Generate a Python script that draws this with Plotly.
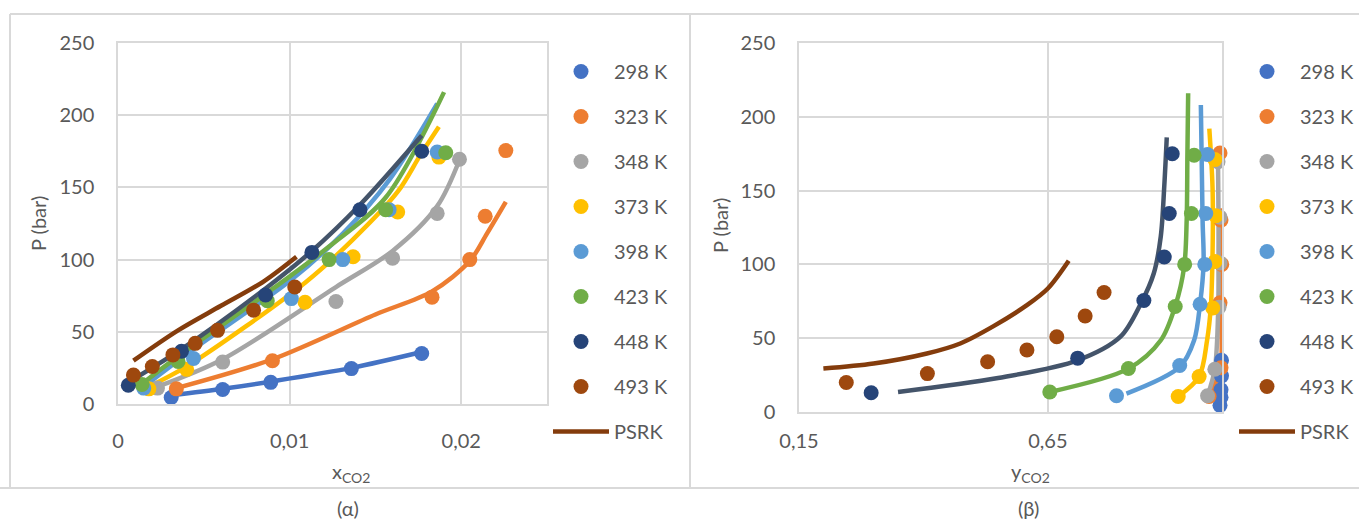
import plotly.graph_objects as go

W, H = 1359, 520

temps = ["298 K", "323 K", "348 K", "373 K", "398 K", "423 K", "448 K", "493 K"]
marker_colors = ["#4472C4", "#ED7D31", "#A5A5A5", "#FFC000", "#5B9BD5", "#70AD47", "#264478", "#9E480E"]
line_colors = ["#4472C4", "#ED7D31", "#A5A5A5", "#FFC000", "#5B9BD5", "#70AD47", "#44546A", "#843C0C"]

# ---- experimental points: pressure (bar), liquid x_CO2, vapour y_CO2 ----
P_298 = [4.5, 10, 15, 24.5, 35]
x_298 = [0.0031, 0.0061, 0.0089, 0.0136, 0.0177]
y_298 = [0.996, 0.998, 0.998, 0.999, 0.999]

P_323 = [10.5, 30, 74, 100, 130, 175.5]
x_323 = [0.0034, 0.0090, 0.0183, 0.0205, 0.0214, 0.0226]
y_323 = [0.974, 0.998, 0.996, 0.9995, 0.998, 0.996]

P_348 = [11, 29, 71, 101, 132, 169.5]
x_348 = [0.0023, 0.0061, 0.0127, 0.0160, 0.0186, 0.0199]
y_348 = [0.971, 0.9856, 0.994, 0.996, 0.996, 0.992]

P_373 = [10.5, 24, 70.5, 102, 133, 171]
x_373 = [0.0018, 0.0040, 0.0109, 0.0137, 0.0163, 0.0187]
y_373 = [0.912, 0.954, 0.9815, 0.986, 0.9876, 0.9856]

P_398 = [11, 31.5, 73, 100, 134.5, 174.5]
x_398 = [0.0015, 0.0044, 0.0101, 0.0131, 0.0158, 0.0186]
y_398 = [0.788, 0.915, 0.956, 0.9654, 0.9674, 0.9708]

P_423 = [13.5, 29.5, 71.5, 100, 134.5, 174]
x_423 = [0.0014, 0.0035, 0.0087, 0.0123, 0.0156, 0.0191]
y_423 = [0.654, 0.812, 0.906, 0.925, 0.9386, 0.944]

P_448 = [13, 36.5, 75.5, 105, 134.5, 175]
x_448 = [0.0006, 0.0037, 0.0086, 0.0113, 0.0141, 0.0177]
y_448 = [0.295, 0.710, 0.843, 0.884, 0.894, 0.900]

P_493 = [20, 26, 34, 42, 51, 65, 81]
x_493 = [0.0009, 0.0020, 0.0032, 0.0045, 0.0058, 0.0079, 0.0103]
y_493 = [0.245, 0.408, 0.529, 0.608, 0.668, 0.725, 0.763]

# ---- PSRK model curves: liquid branch (x) and vapour branch (y) ----
psrk_x_298 = [0.0031, 0.0061, 0.0089, 0.0136, 0.0177]
psrk_Px_298 = [6, 10.5, 15.5, 25, 36]
psrk_y_298 = [0.996, 0.997, 0.997, 0.998, 0.998]
psrk_Py_298 = [6, 10.5, 15.5, 25, 36]

psrk_x_323 = [0.0034, 0.0090, 0.0150, 0.0183, 0.0205, 0.0215, 0.0226]
psrk_Px_323 = [11, 31, 62, 78, 99, 118, 140]
psrk_y_323 = [0.974, 0.997, 0.997, 0.997, 0.996]
psrk_Py_323 = [10.5, 30, 74, 100, 138]

psrk_x_348 = [0.0023, 0.0061, 0.0127, 0.0160, 0.0186, 0.0199]
psrk_Px_348 = [12, 31, 81, 106, 137, 169]
psrk_y_348 = [0.971, 0.9856, 0.9925, 0.993, 0.993, 0.992]
psrk_Py_348 = [11, 29, 71, 101, 132, 169]

psrk_x_373 = [0.0018, 0.0040, 0.0109, 0.0137, 0.0163, 0.0176, 0.0187]
psrk_Px_373 = [12, 26, 84, 114, 147, 172, 192]
psrk_y_373 = [0.912, 0.954, 0.970, 0.9775, 0.981, 0.981, 0.9745]
psrk_Py_373 = [10.5, 24, 48.6, 71, 107, 152, 192]

psrk_x_398 = [0.0015, 0.0044, 0.0101, 0.0131, 0.0158, 0.0186]
psrk_Px_398 = [12, 38, 86, 118, 155, 208]
psrk_y_398 = [0.808, 0.915, 0.944, 0.956, 0.963, 0.961, 0.9575]
psrk_Py_398 = [12.4, 30.5, 48.6, 73.5, 100.7, 130, 208]

psrk_x_423 = [0.0014, 0.0035, 0.0087, 0.0123, 0.0156, 0.0190]
psrk_Px_423 = [14, 33, 77, 109, 143, 216]
psrk_y_423 = [0.654, 0.812, 0.877, 0.906, 0.924, 0.929, 0.9305, 0.932]
psrk_Py_423 = [13.6, 29.4, 48.6, 71.7, 98.4, 130, 175, 216]

psrk_x_448 = [0.0006, 0.0037, 0.0086, 0.0113, 0.0141, 0.0177]
psrk_Px_448 = [15, 38, 80, 106, 138, 186]
psrk_y_448 = [0.349, 0.550, 0.710, 0.796, 0.837, 0.863, 0.877, 0.884, 0.889]
psrk_Py_448 = [13.6, 23, 35, 51, 73.5, 94, 119, 153, 186]

psrk_x_493 = [0.0009, 0.0035, 0.0060, 0.0085, 0.0104]
psrk_Px_493 = [30, 51, 68, 85, 102]
psrk_y_493 = [0.199, 0.300, 0.407, 0.474, 0.541, 0.608, 0.650, 0.692]
psrk_Py_493 = [29.4, 32.8, 39.6, 46.4, 58.2, 72.4, 83.7, 102.5]

# axis ticks
x_ticks_left = [0, 0.01, 0.02]
x_ticklabels_left = ["0", "0,01", "0,02"]
x_ticks_right = [0.15, 0.65]
x_ticklabels_right = ["0,15", "0,65"]
p_ticks = [0, 50, 100, 150, 200, 250]

exp_P = [P_298, P_323, P_348, P_373, P_398, P_423, P_448, P_493]
exp_x = [x_298, x_323, x_348, x_373, x_398, x_423, x_448, x_493]
exp_y = [y_298, y_323, y_348, y_373, y_398, y_423, y_448, y_493]
mod_x = [psrk_x_298, psrk_x_323, psrk_x_348, psrk_x_373, psrk_x_398, psrk_x_423, psrk_x_448, psrk_x_493]
mod_Px = [psrk_Px_298, psrk_Px_323, psrk_Px_348, psrk_Px_373, psrk_Px_398, psrk_Px_423, psrk_Px_448, psrk_Px_493]
mod_y = [psrk_y_298, psrk_y_323, psrk_y_348, psrk_y_373, psrk_y_398, psrk_y_423, psrk_y_448, psrk_y_493]
mod_Py = [psrk_Py_298, psrk_Py_323, psrk_Py_348, psrk_Py_373, psrk_Py_398, psrk_Py_423, psrk_Py_448, psrk_Py_493]

FONT = "Lato"
TXT = "#595959"
GRID = "#D9D9D9"

fig = go.Figure()

n = len(temps)
# model curves underneath the points
for i in range(n):
    last = i == n - 1
    for side, xs, ps, xa, ya, lg in (
        ("L", mod_x[i], mod_Px[i], "x", "y", "legend"),
        ("R", mod_y[i], mod_Py[i], "x2", "y2", "legend2"),
    ):
        fig.add_trace(go.Scatter(
            x=xs, y=ps, xaxis=xa, yaxis=ya, mode="lines",
            line=dict(color=line_colors[i], width=4.5, shape="spline", smoothing=0.9),
            name="PSRK", showlegend=last, legend=lg,
            legendgroup="psrk" + side, legendrank=100,
            hoverinfo="skip", cliponaxis=False,
        ))

# experimental points
for i in range(n):
    for side, xs, xa, ya, lg in (
        ("L", exp_x[i], "x", "y", "legend"),
        ("R", exp_y[i], "x2", "y2", "legend2"),
    ):
        fig.add_trace(go.Scatter(
            x=xs, y=exp_P[i], xaxis=xa, yaxis=ya, mode="markers",
            marker=dict(color=marker_colors[i], size=15, line=dict(width=0)),
            name=temps[i], legend=lg, legendgroup=temps[i] + side,
            legendrank=i + 1, cliponaxis=False,
        ))


def px_x(p):
    return p / W


def px_y(p):
    return 1 - p / H


axis_common = dict(
    showgrid=True, gridcolor=GRID, gridwidth=1.5,
    showline=True, mirror=True, linecolor=GRID, linewidth=1.5,
    zeroline=False, ticks="", automargin=False,
    tickfont=dict(family=FONT, size=20, color=TXT),
)

legend_common = dict(
    xanchor="left", yanchor="top", orientation="v",
    xref="container", yref="container", maxheight=500,
    font=dict(family=FONT, size=20, color=TXT),
    itemwidth=56, tracegroupgap=16, traceorder="grouped",
    bgcolor="rgba(0,0,0,0)", borderwidth=0,
)

fig.update_layout(
    width=W, height=H,
    margin=dict(l=0, r=0, t=0, b=0, autoexpand=False),
    paper_bgcolor="white", plot_bgcolor="white",
    font=dict(family=FONT, size=20, color=TXT),
    showlegend=True,
    xaxis=dict(domain=[px_x(118), px_x(547)], range=[0, 0.025],
               tickvals=x_ticks_left, ticktext=x_ticklabels_left,
               ticklabelstandoff=18, anchor="y", **axis_common),
    yaxis=dict(domain=[px_y(404), px_y(43)], range=[0, 250],
               tickvals=p_ticks, ticklabelstandoff=18, anchor="x", **axis_common),
    xaxis2=dict(domain=[px_x(799), px_x(1222)], range=[0.15, 1.0],
                tickvals=x_ticks_right, ticktext=x_ticklabels_right,
                ticklabelstandoff=10, anchor="y2", **axis_common),
    yaxis2=dict(domain=[px_y(412), px_y(43)], range=[0, 250],
                tickvals=p_ticks, ticklabelstandoff=18, anchor="x2", **axis_common),
    legend=dict(x=px_x(548), y=px_y(52), **legend_common),
    legend2=dict(x=px_x(1234), y=px_y(52), **legend_common),
)

# axis titles and panel captions
labels = [
    ("P (bar)", 38, 224, -90),
    ("P (bar)", 720, 226, -90),
    ("x<sub>CO2</sub>", 351, 472, 0),
    ("y<sub>CO2</sub>", 1030, 472, 0),
    ("(α)", 348, 508, 0),
    ("(β)", 1028, 508, 0),
]
for text, ax_, ay_, rot in labels:
    fig.add_annotation(
        text=text, x=px_x(ax_), y=px_y(ay_), xref="paper", yref="paper",
        xanchor="center", yanchor="middle", showarrow=False, textangle=rot,
        font=dict(family=FONT, size=20, color=TXT),
    )

# outer frame of the two panels
frame = dict(color=GRID, width=2)
for x0, y0, x1, y1 in [
    (10, 14, W, 14),
    (10, 14, 10, 488),
    (0, 488, W, 488),
    (690, 14, 690, 488),
]:
    fig.add_shape(type="line", xref="paper", yref="paper",
                  x0=px_x(x0), y0=px_y(y0), x1=px_x(x1), y1=px_y(y1), line=frame)

fig.write_html("out.html")
